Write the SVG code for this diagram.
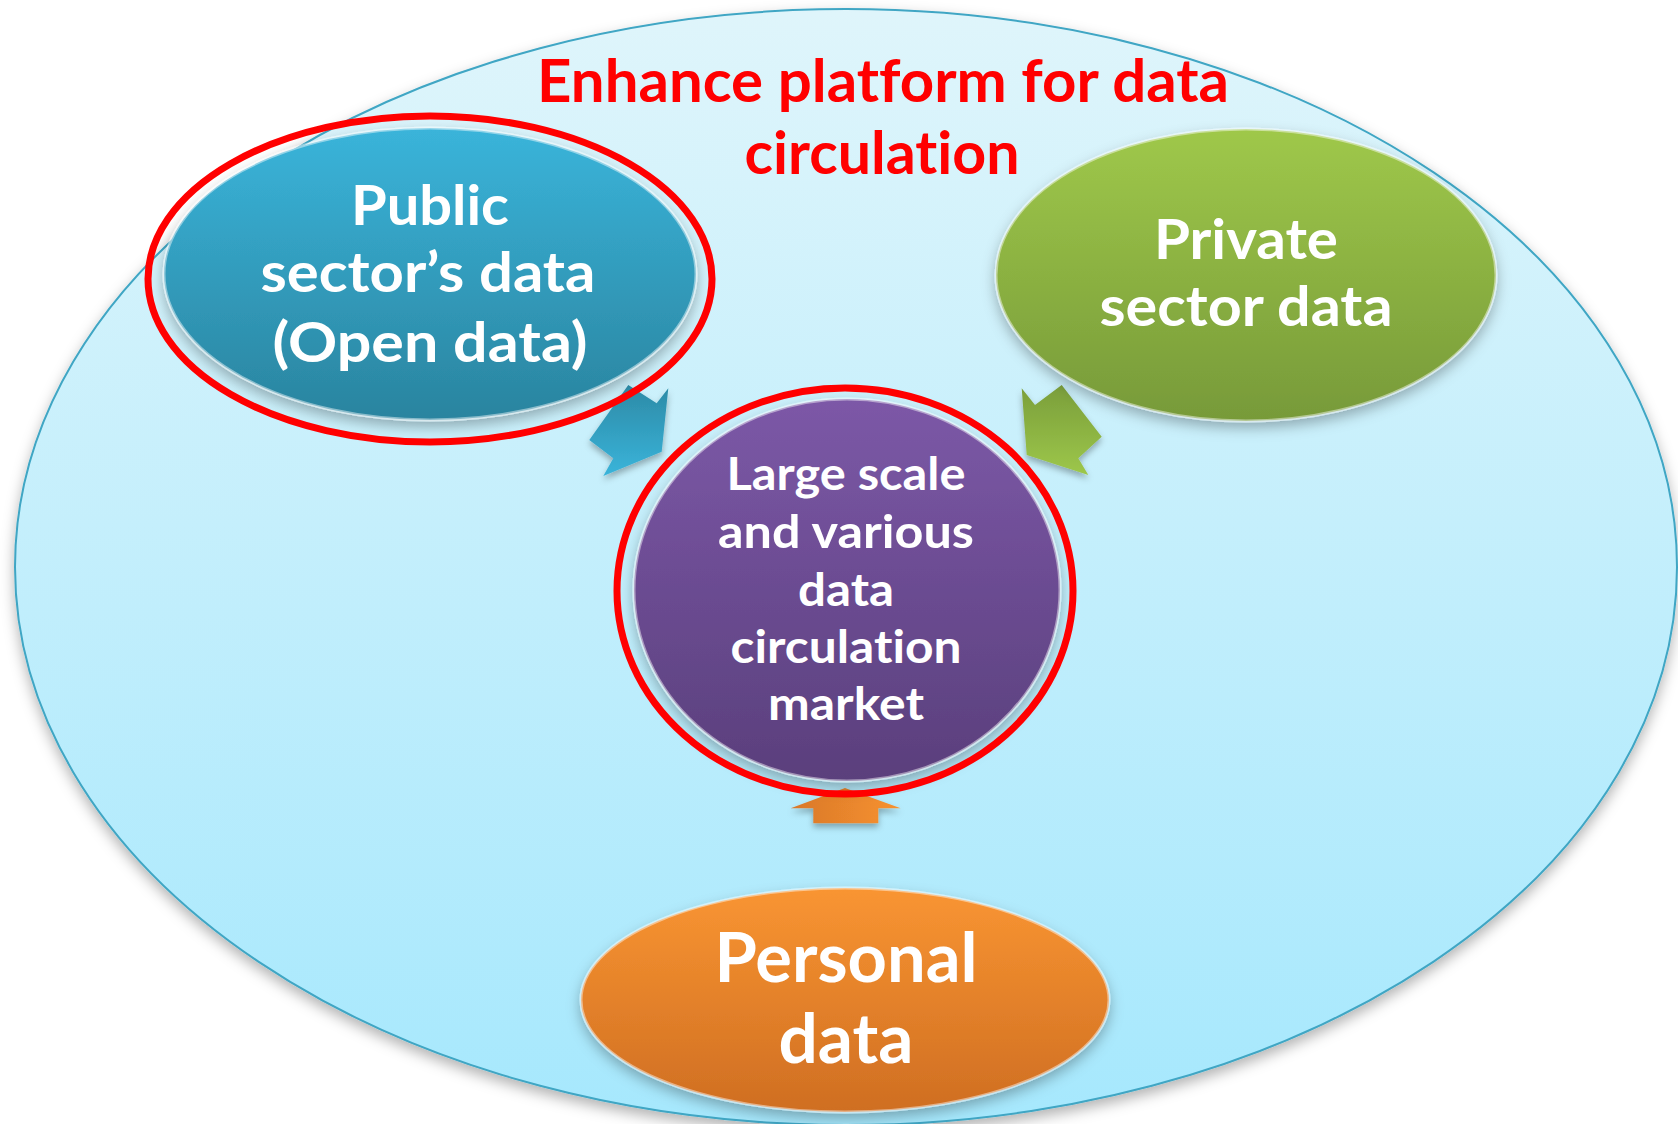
<svg xmlns="http://www.w3.org/2000/svg" width="1678" height="1124" viewBox="0 0 1678 1124">
<defs>
<linearGradient id="gBg" x1="0" y1="0" x2="0" y2="1"><stop offset="0" stop-color="#DFF5FB"/><stop offset="1" stop-color="#A6E8FD"/></linearGradient>
<linearGradient id="gPub" x1="0" y1="0" x2="0" y2="1"><stop offset="0" stop-color="#3AB4DA"/><stop offset="1" stop-color="#2A849F"/></linearGradient>
<linearGradient id="gPri" x1="0" y1="0" x2="0" y2="1"><stop offset="0" stop-color="#9FC84A"/><stop offset="1" stop-color="#779A39"/></linearGradient>
<linearGradient id="gMid" x1="0" y1="0" x2="0" y2="1"><stop offset="0" stop-color="#7C58A7"/><stop offset="1" stop-color="#5A3F7C"/></linearGradient>
<linearGradient id="gPer" x1="0" y1="0" x2="0" y2="1"><stop offset="0" stop-color="#F99532"/><stop offset="1" stop-color="#CF6E22"/></linearGradient>
<linearGradient id="gA1" x1="0" y1="0" x2="0" y2="1"><stop offset="0" stop-color="#2C8AA6"/><stop offset="1" stop-color="#3AB4DA"/></linearGradient>
<linearGradient id="gA2" x1="0" y1="0" x2="0" y2="1"><stop offset="0" stop-color="#7A9E3B"/><stop offset="1" stop-color="#9DC74A"/></linearGradient>
<linearGradient id="gA3" x1="0" y1="0" x2="1" y2="0"><stop offset="0" stop-color="#D9782A"/><stop offset="1" stop-color="#F7922F"/></linearGradient>
<filter id="sh" x="-20%" y="-20%" width="140%" height="150%"><feDropShadow dx="0" dy="6" stdDeviation="7" flood-color="#000" flood-opacity="0.3"/></filter>
<filter id="shs" x="-30%" y="-30%" width="160%" height="170%"><feDropShadow dx="0" dy="4" stdDeviation="3" flood-color="#000" flood-opacity="0.3"/></filter>
</defs>
<style>
.node{stroke:#ffffff;stroke-opacity:0.45;stroke-width:3}
.ring{fill:none;stroke:#FF0000;stroke-width:7}
.t{font-family:Lato,"Open Sans","Liberation Sans",sans-serif;font-weight:700;fill:#ffffff;text-anchor:middle;font-variant-ligatures:none}
.title{font-family:Lato,"Open Sans","Liberation Sans",sans-serif;font-weight:700;fill:#FF0000;text-anchor:middle;font-variant-ligatures:none}
</style>
<g id="platform">
<ellipse cx="846" cy="567" rx="831" ry="558" fill="url(#gBg)" stroke="#3FA6C4" stroke-width="2" filter="url(#sh)"/>
<text class="title" font-size="59" x="883" y="102" textLength="692" lengthAdjust="spacingAndGlyphs">Enhance platform for data</text>
<text class="title" font-size="59" x="882" y="174" textLength="275" lengthAdjust="spacingAndGlyphs">circulation</text>
</g>
<g id="connectors">
<polygon points="628.3,385 656.7,403.3 668.3,388.3 661.7,451.7 603.3,476 613.3,458.3 589.3,440" fill="url(#gA1)" filter="url(#shs)"/>
<polygon points="1021.7,388.3 1035,405 1061.7,385 1101.7,436.7 1078.3,458.3 1088.3,475 1026.7,455" fill="url(#gA2)" filter="url(#shs)"/>
<polygon points="790.7,808.3 845,788 900.7,808.3 878.3,808.3 878.3,823.3 813.3,823.3 813.3,808.3" fill="url(#gA3)" filter="url(#shs)"/>
</g>
<g id="public">
<ellipse class="node" cx="430" cy="274" rx="266" ry="146" fill="url(#gPub)" filter="url(#sh)"/>
<ellipse class="ring" cx="430" cy="279" rx="282" ry="163"/>
<text class="t" font-size="56" x="430" y="225" textLength="158" lengthAdjust="spacingAndGlyphs">Public</text>
<text class="t" font-size="56" x="428" y="292" textLength="335" lengthAdjust="spacingAndGlyphs">sector’s data</text>
<text class="t" font-size="56" x="430" y="362" textLength="315" lengthAdjust="spacingAndGlyphs">(Open data)</text>
</g>
<g id="private">
<ellipse class="node" cx="1246" cy="275" rx="250" ry="146" fill="url(#gPri)" filter="url(#sh)"/>
<text class="t" font-size="56" x="1246" y="259" textLength="184" lengthAdjust="spacingAndGlyphs">Private</text>
<text class="t" font-size="56" x="1246" y="326" textLength="293" lengthAdjust="spacingAndGlyphs">sector data</text>
</g>
<g id="market">
<ellipse class="node" cx="847" cy="590" rx="213" ry="191" fill="url(#gMid)" filter="url(#sh)"/>
<ellipse class="ring" cx="845" cy="591" rx="228" ry="203"/>
<text class="t" font-size="46" x="846" y="490" textLength="239" lengthAdjust="spacingAndGlyphs">Large scale</text>
<text class="t" font-size="46" x="846" y="548" textLength="256" lengthAdjust="spacingAndGlyphs">and various</text>
<text class="t" font-size="46" x="846" y="606" textLength="96" lengthAdjust="spacingAndGlyphs">data</text>
<text class="t" font-size="46" x="846" y="663" textLength="231" lengthAdjust="spacingAndGlyphs">circulation</text>
<text class="t" font-size="46" x="846" y="720" textLength="156" lengthAdjust="spacingAndGlyphs">market</text>
</g>
<g id="personal">
<ellipse class="node" cx="845" cy="1000" rx="264" ry="112" fill="url(#gPer)" filter="url(#sh)"/>
<text class="t" font-size="68" x="846" y="982" textLength="263" lengthAdjust="spacingAndGlyphs">Personal</text>
<text class="t" font-size="68" x="846" y="1063" textLength="135" lengthAdjust="spacingAndGlyphs">data</text>
</g>
</svg>
